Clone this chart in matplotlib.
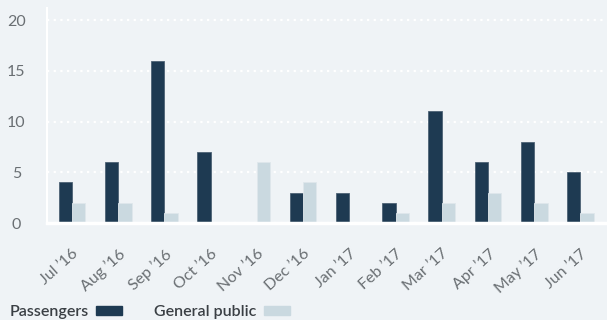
import matplotlib as mpl
import matplotlib.pyplot as plt
import matplotlib.patches as mpatches
import matplotlib.transforms as mtransforms
import numpy as np

mpl.rc('font', family='Lato', size=9.5)

# data
months = ['Jul \u201916', 'Aug \u201916', 'Sep \u201916', 'Oct \u201916', 'Nov \u201916', 'Dec \u201916',
          'Jan \u201917', 'Feb \u201917', 'Mar \u201917', 'Apr \u201917', 'May \u201917', 'Jun \u201917']
passengers = [4, 6, 16, 7, 0, 3, 3, 2, 11, 6, 8, 5]
general_public = [2, 2, 1, 0, 6, 4, 0, 1, 2, 3, 2, 1]

bg = '#eff3f6'
dark = '#1e3a52'
light = '#cad9e0'
txt = '#6a6f73'

fig = plt.figure(figsize=(6.07, 3.2), dpi=100, facecolor=bg)
ax = fig.add_axes([0.0774, 0.303, 0.92, 0.672])
ax.set_facecolor(bg)

x = np.arange(len(months))
w = 0.29
ax.bar(x - w/2, passengers, w, color=dark, edgecolor='#4d6275', linewidth=0.6, zorder=3)
ax.bar(x + w/2, general_public, w, color=light, edgecolor='#dfe7ec', linewidth=0.6, zorder=3)

ax.set_xlim(-0.54, 11.54)
ax.set_ylim(0, 21.2)
ax.set_yticks([0, 5, 10, 15, 20])
ax.set_yticklabels(['0', '5', '10', '15', '20'], fontsize=11.5, color=txt)
ax.yaxis.grid(True, color='white', linestyle=(0, (1, 2)), linewidth=1.6, zorder=1)
ax.set_xticks(x)
ax.set_xticklabels(months, rotation=42, ha='right', rotation_mode='anchor', color=txt,
                   fontsize=11.5)
offset = mtransforms.ScaledTranslation(0.22, 0, fig.dpi_scale_trans)
for lbl in ax.get_xticklabels():
    lbl.set_transform(lbl.get_transform() + offset)
ax.tick_params(axis='both', length=0)
ax.tick_params(axis='x', pad=17)
ax.tick_params(axis='y', pad=22)
for lbl in ax.get_yticklabels():
    lbl.set_horizontalalignment('center')
for s in ['top', 'right']:
    ax.spines[s].set_visible(False)
ax.spines['left'].set_color('white')
ax.spines['left'].set_linewidth(1.5)
ax.spines['bottom'].set_color('white')
ax.spines['bottom'].set_linewidth(2.5)
ax.spines['bottom'].set_zorder(4)

handles = [mpatches.Patch(color=dark), mpatches.Patch(color=light)]
leg = fig.legend(handles, ['Passengers', 'General public'], loc='lower left',
                 bbox_to_anchor=(-0.008, -0.042), ncol=2, frameon=False, markerfirst=False,
                 handlelength=1.65, handleheight=0.45, columnspacing=2.0, handletextpad=0.45,
                 prop={'size': 11.5, 'weight': 'semibold'})
for t in leg.get_texts():
    t.set_color('#3a3f44')

fig.savefig('out.png', dpi=100, facecolor=bg)
